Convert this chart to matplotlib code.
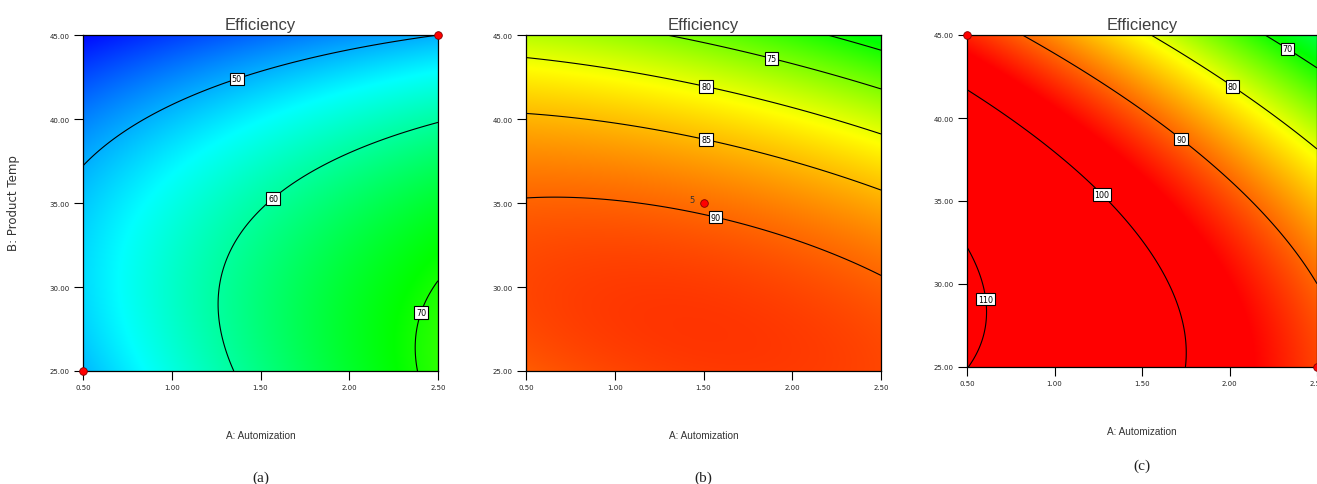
import numpy as np
import matplotlib.pyplot as plt
from matplotlib.colors import LinearSegmentedColormap, Normalize

# factor ranges (actual units)
auto_range = [0.5, 2.5]      # A: Automization
temp_range = [25.0, 45.0]    # B: Product Temp
x_ticks = [0.5, 1.0, 1.5, 2.0, 2.5]
y_ticks = [25.0, 30.0, 35.0, 40.0, 45.0]

# quadratic model coefficients in coded units: [b0, A, B, AB, A^2, B^2]
coef_a = [59.7, 7.5, -7.76, -2.75, -0.80, -5.90]
coef_b = [89.4, -2.12, -9.25, -2.75, -1.32, -6.10]
coef_c = [97.8, -11.7, -10.78, -2.70, -1.26, -6.27]

# contour levels and the ones that carry a label
levels_a = [50, 60, 70]
levels_b = [70, 75, 80, 85, 90]
levels_c = [70, 80, 90, 100, 110]
labeled_a = [50, 60, 70]
labeled_b = [75, 80, 85, 90]
labeled_c = [70, 80, 90, 100, 110]

# approximate label spots on each contour
label_pos_a = [(1.35, 42.9), (1.53, 35.8), (2.40, 28.5)]
label_pos_b = [(1.89, 43.9), (1.52, 42.2), (1.52, 39.0), (1.57, 34.3)]
label_pos_c = [(2.34, 44.3), (2.03, 42.1), (1.73, 38.8), (1.28, 35.5), (0.61, 29.1)]

# design points shown on each slice
points_a = [(0.5, 25.0), (2.5, 45.0)]
points_b = [(1.5, 35.0)]
points_c = [(0.5, 45.0), (2.5, 25.0)]
replicates_b = ["5"]

# colour scale shared by all three plots (value -> colour)
scale_values = [40, 54.5, 69, 81, 96]
scale_colors = ["#0000ff", "#00ffff", "#00ff00", "#ffff00", "#ff0000"]


def model(coef, a, b):
    """Evaluate the quadratic response surface at actual factor values"""
    xa = (a - np.mean(auto_range)) / (np.diff(auto_range)[0] / 2)
    xb = (b - np.mean(temp_range)) / (np.diff(temp_range)[0] / 2)
    b0, bA, bB, bAB, bAA, bBB = coef
    return b0 + bA * xa + bB * xb + bAB * xa * xb + bAA * xa ** 2 + bBB * xb ** 2


vmin, vmax = scale_values[0], scale_values[-1]
nodes = [(v - vmin) / (vmax - vmin) for v in scale_values]
cmap = LinearSegmentedColormap.from_list("de", list(zip(nodes, scale_colors)), N=2048)
norm = Normalize(vmin, vmax)

W, H = 1317, 485
fig = plt.figure(figsize=(W / 100, H / 100), dpi=100)

# axes boxes in pixels: left, top, right, bottom
boxes = [(83, 36, 438, 372), (526, 36, 881, 372), (967, 36, 1317, 368)]
panels = [
    (coef_a, levels_a, labeled_a, label_pos_a, points_a, "(a)", 436, 478),
    (coef_b, levels_b, labeled_b, label_pos_b, points_b, "(b)", 436, 478),
    (coef_c, levels_c, labeled_c, label_pos_c, points_c, "(c)", 432, 466),
]

ga = np.linspace(auto_range[0], auto_range[1], 400)
gb = np.linspace(temp_range[0], temp_range[1], 400)
A, B = np.meshgrid(ga, gb)

for i, (box, panel) in enumerate(zip(boxes, panels)):
    coef, levels, labeled, lpos, pts, tag, xlab_y, tag_y = panel
    l, t, r, b = box
    ax = fig.add_axes([l / W, 1 - b / H, (r - l) / W, (b - t) / H])
    Z = model(coef, A, B)
    ax.imshow(Z, origin="lower", extent=[*auto_range, *temp_range], aspect="auto",
              cmap=cmap, norm=norm, interpolation="bilinear")
    plain = [v for v in levels if v not in labeled]
    if plain:
        ax.contour(A, B, Z, levels=plain, colors="black", linewidths=0.8)
    cs = ax.contour(A, B, Z, levels=labeled, colors="black", linewidths=0.8)
    texts = ax.clabel(cs, manual=lpos, inline=False, fontsize=5.8, fmt="%d")
    for txt in texts:
        txt.set_rotation(0)
        txt.set_bbox(dict(boxstyle="square,pad=0.22", fc="white", ec="black", lw=0.8))
        txt.set_zorder(5)

    px, py = zip(*pts)
    ax.plot(px, py, "o", color="#ff0000", mec="#800000", mew=0.6, ms=5.5,
            clip_on=False, zorder=6)
    if i == 1:
        for (x0, y0), rep in zip(pts, replicates_b):
            ax.annotate(rep, (x0, y0), xytext=(-10, 1), textcoords="offset points",
                        fontsize=6, color="#333333")

    ax.set_xlim(auto_range)
    ax.set_ylim(temp_range)
    ax.set_xticks(x_ticks)
    ax.set_yticks(y_ticks)
    ax.set_xticklabels([f"{v:.2f}" for v in x_ticks])
    ax.set_yticklabels([f"{v:.2f}" for v in y_ticks])
    ax.tick_params(direction="out", length=6.5, width=0.8, labelsize=5,
                   labelcolor="#222222", pad=3)
    for sp in ax.spines.values():
        sp.set_linewidth(0.9)
    ax.set_title("Efficiency", fontsize=12, color="#404040", pad=4,
                 family="Liberation Sans")

    cx = (l + r) / 2 / W
    fig.text(cx, 1 - xlab_y / H, "A: Automization", ha="center", va="center",
             fontsize=7.2, color="#333333", family="Liberation Sans")
    fig.text(cx, 1 - tag_y / H, tag, ha="center", va="center",
             fontsize=11, color="#222222", family="Liberation Serif")

fig.text(14 / W, 1 - 203 / H, "B: Product Temp", rotation=90, ha="center", va="center",
         fontsize=8.5, color="#333333", family="DejaVu Sans")

fig.savefig("out.png", dpi=100)
